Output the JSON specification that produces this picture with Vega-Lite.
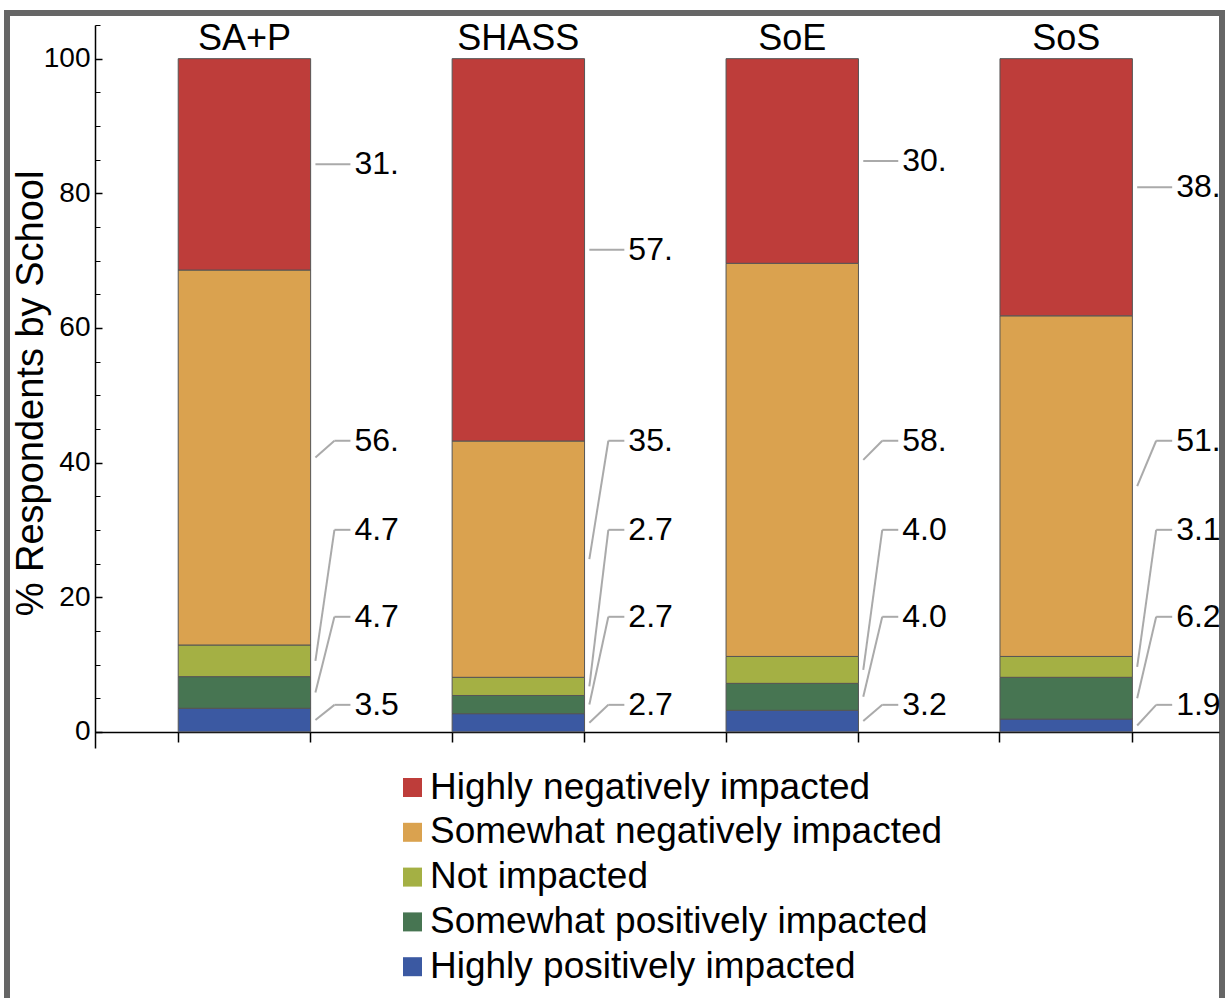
{
  "$schema": "https://vega.github.io/schema/vega-lite/v6.json",
  "width": 1215,
  "height": 988,
  "autosize": {"type": "none"},
  "padding": {"left": 7, "top": 13, "right": 3, "bottom": -3},
  "background": "white",
  "config": {
    "view": {"stroke": "#666666", "strokeWidth": 6, "fill": "white"},
    "axis": {"labelFont": "Liberation Sans", "titleFont": "Liberation Sans", "grid": false},
    "legend": {"labelFont": "Liberation Sans"},
    "text": {"font": "Liberation Sans"}
  },
  "data": {
    "values": [
      {"school": "SA+P", "category": "Highly positively impacted", "pct": 3.5, "label": "3.5"},
      {"school": "SA+P", "category": "Somewhat positively impacted", "pct": 4.7, "label": "4.7"},
      {"school": "SA+P", "category": "Not impacted", "pct": 4.7, "label": "4.7"},
      {"school": "SA+P", "category": "Somewhat negatively impacted", "pct": 55.7, "label": "56."},
      {"school": "SA+P", "category": "Highly negatively impacted", "pct": 31.4, "label": "31."},
      {"school": "SHASS", "category": "Highly positively impacted", "pct": 2.7, "label": "2.7"},
      {"school": "SHASS", "category": "Somewhat positively impacted", "pct": 2.7, "label": "2.7"},
      {"school": "SHASS", "category": "Not impacted", "pct": 2.7, "label": "2.7"},
      {"school": "SHASS", "category": "Somewhat negatively impacted", "pct": 35.1, "label": "35."},
      {"school": "SHASS", "category": "Highly negatively impacted", "pct": 56.8, "label": "57."},
      {"school": "SoE", "category": "Highly positively impacted", "pct": 3.2, "label": "3.2"},
      {"school": "SoE", "category": "Somewhat positively impacted", "pct": 4.0, "label": "4.0"},
      {"school": "SoE", "category": "Not impacted", "pct": 4.0, "label": "4.0"},
      {"school": "SoE", "category": "Somewhat negatively impacted", "pct": 58.4, "label": "58."},
      {"school": "SoE", "category": "Highly negatively impacted", "pct": 30.4, "label": "30."},
      {"school": "SoS", "category": "Highly positively impacted", "pct": 1.9, "label": "1.9"},
      {"school": "SoS", "category": "Somewhat positively impacted", "pct": 6.2, "label": "6.2"},
      {"school": "SoS", "category": "Not impacted", "pct": 3.1, "label": "3.1"},
      {"school": "SoS", "category": "Somewhat negatively impacted", "pct": 50.6, "label": "51."},
      {"school": "SoS", "category": "Highly negatively impacted", "pct": 38.2, "label": "38."}
    ]
  },
  "transform": [
    {"stack": "pct", "groupby": ["school"], "as": ["y0", "y1"]}
  ],
  "resolve": {"axis": {"x": "independent", "y": "independent"}},
  "layer": [
    {
      "mark": {"type": "bar", "stroke": "#555555", "strokeWidth": 1},
      "encoding": {
        "x": {
          "field": "school", "type": "nominal",
          "scale": {"type": "band", "range": [88, 1212], "paddingInner": 0.5166, "paddingOuter": 0.31, "align": 0.49},
          "axis": {"orient": "bottom", "offset": -269, "bandPosition": 0, "labels": false, "title": null,
                   "domainColor": "black", "domainWidth": 1.5, "tickColor": "black", "tickSize": 10, "tickWidth": 1.5}
        },
        "y": {
          "field": "y0", "type": "quantitative",
          "scale": {"domain": [-2.4, 105], "range": [735, 12], "nice": false, "zero": false},
          "axis": {"orient": "left", "offset": -88, "values": [0, 20, 40, 60, 80, 100],
                   "tickSize": -7, "labelPadding": 12, "labelFontSize": 28, "labelColor": "black",
                   "domainColor": "black", "domainWidth": 1.5, "tickColor": "black", "tickWidth": 1.5,
                   "title": "% Respondents by School", "titleFontSize": 38, "titleFontWeight": "normal",
                   "titleColor": "black", "titleX": -45, "titleY": 380}
        },
        "y2": {"field": "y1"},
        "color": {
          "field": "category", "type": "nominal",
          "scale": {
            "domain": ["Highly negatively impacted", "Somewhat negatively impacted", "Not impacted", "Somewhat positively impacted", "Highly positively impacted"],
            "range": ["#be3d3a", "#daa24f", "#a4b044", "#477552", "#3b59a2"]
          },
          "legend": {"orient": "none", "legendX": 387, "legendY": 756, "direction": "vertical", "title": null,
                     "labelFontSize": 37, "labelColor": "black", "labelLimit": 0, "labelOffset": -1,
                     "symbolType": "square", "symbolSize": 361, "symbolStrokeWidth": 0, "rowPadding": 6.8}
        }
      }
    },
    {
      "transform": [
        {"fold": ["y0", "y1"], "as": ["k", "v"]},
        {"aggregate": [{"op": "mean", "field": "v", "as": "mid"}], "groupby": ["school", "category", "label"]}
      ],
      "resolve": {"axis": {"x": "independent", "y": "independent"}},
      "layer": [
        {
          "transform": [{"filter": {"field": "category", "equal": "Highly negatively impacted"}}],
          "mark": {"type": "text", "align": "left", "baseline": "middle", "dx": 110, "fontSize": 32, "color": "black"},
          "encoding": {
            "x": {"field": "school", "type": "nominal", "scale": {"type": "band"},
                  "axis": {"orient": "top", "offset": -44, "labelFontSize": 36, "labelColor": "black", "labelPadding": 0,
                           "ticks": false, "domain": false, "title": null, "labelAngle": 0}},
            "y": {"field": "mid", "type": "quantitative", "axis": null},
            "text": {"field": "label"}
          }
        },
        {
          "transform": [{"filter": {"field": "category", "equal": "Highly negatively impacted"}}],
          "mark": {"type": "rule", "color": "#aaaaaa", "strokeWidth": 2, "xOffset": 71, "x2Offset": 106},
          "encoding": {
            "x": {"field": "school", "type": "nominal", "scale": {"type": "band"},
                  "axis": {"orient": "bottom", "offset": -269, "bandPosition": 1, "labels": false, "domain": false, "title": null,
                           "tickColor": "black", "tickSize": 10, "tickWidth": 1.5}},
            "x2": {"field": "school"},
            "y": {"field": "mid", "type": "quantitative",
                  "axis": {"orient": "left", "offset": -88, "values": [5, 10, 15, 25, 30, 35, 45, 50, 55, 65, 70, 75, 85, 90, 95, 105],
                           "tickSize": -5, "labels": false, "domain": false, "title": null, "tickColor": "black", "tickWidth": 1}}
          }
        },
        {
          "transform": [{"filter": {"field": "category", "equal": "Somewhat negatively impacted"}}],
          "mark": {"type": "rule", "color": "#aaaaaa", "strokeWidth": 2, "xOffset": 71, "x2Offset": 90},
          "encoding": {
            "x": {"field": "school", "type": "nominal", "scale": {"type": "band"}, "axis": null},
            "x2": {"field": "school"},
            "y": {"field": "mid", "type": "quantitative", "axis": null},
            "y2": {"datum": 43.24}
          }
        },
        {
          "transform": [{"filter": {"field": "category", "equal": "Somewhat negatively impacted"}}],
          "mark": {"type": "rule", "color": "#aaaaaa", "strokeWidth": 2, "xOffset": 90, "x2Offset": 106},
          "encoding": {
            "x": {"field": "school", "type": "nominal", "scale": {"type": "band"}, "axis": null},
            "x2": {"field": "school"},
            "y": {"datum": 43.24, "type": "quantitative", "axis": null}
          }
        },
        {
          "transform": [{"filter": {"field": "category", "equal": "Somewhat negatively impacted"}}],
          "mark": {"type": "text", "align": "left", "baseline": "middle", "dx": 110, "fontSize": 32, "color": "black"},
          "encoding": {
            "x": {"field": "school", "type": "nominal", "scale": {"type": "band"}, "axis": null},
            "y": {"datum": 43.24, "type": "quantitative", "axis": null},
            "text": {"field": "label"}
          }
        },
        {
          "transform": [{"filter": {"field": "category", "equal": "Not impacted"}}],
          "mark": {"type": "rule", "color": "#aaaaaa", "strokeWidth": 2, "xOffset": 71, "x2Offset": 90},
          "encoding": {
            "x": {"field": "school", "type": "nominal", "scale": {"type": "band"}, "axis": null},
            "x2": {"field": "school"},
            "y": {"field": "mid", "type": "quantitative", "axis": null},
            "y2": {"datum": 30.01}
          }
        },
        {
          "transform": [{"filter": {"field": "category", "equal": "Not impacted"}}],
          "mark": {"type": "rule", "color": "#aaaaaa", "strokeWidth": 2, "xOffset": 90, "x2Offset": 106},
          "encoding": {
            "x": {"field": "school", "type": "nominal", "scale": {"type": "band"}, "axis": null},
            "x2": {"field": "school"},
            "y": {"datum": 30.01, "type": "quantitative", "axis": null}
          }
        },
        {
          "transform": [{"filter": {"field": "category", "equal": "Not impacted"}}],
          "mark": {"type": "text", "align": "left", "baseline": "middle", "dx": 110, "fontSize": 32, "color": "black"},
          "encoding": {
            "x": {"field": "school", "type": "nominal", "scale": {"type": "band"}, "axis": null},
            "y": {"datum": 30.01, "type": "quantitative", "axis": null},
            "text": {"field": "label"}
          }
        },
        {
          "transform": [{"filter": {"field": "category", "equal": "Somewhat positively impacted"}}],
          "mark": {"type": "rule", "color": "#aaaaaa", "strokeWidth": 2, "xOffset": 71, "x2Offset": 90},
          "encoding": {
            "x": {"field": "school", "type": "nominal", "scale": {"type": "band"}, "axis": null},
            "x2": {"field": "school"},
            "y": {"field": "mid", "type": "quantitative", "axis": null},
            "y2": {"datum": 17.09}
          }
        },
        {
          "transform": [{"filter": {"field": "category", "equal": "Somewhat positively impacted"}}],
          "mark": {"type": "rule", "color": "#aaaaaa", "strokeWidth": 2, "xOffset": 90, "x2Offset": 106},
          "encoding": {
            "x": {"field": "school", "type": "nominal", "scale": {"type": "band"}, "axis": null},
            "x2": {"field": "school"},
            "y": {"datum": 17.09, "type": "quantitative", "axis": null}
          }
        },
        {
          "transform": [{"filter": {"field": "category", "equal": "Somewhat positively impacted"}}],
          "mark": {"type": "text", "align": "left", "baseline": "middle", "dx": 110, "fontSize": 32, "color": "black"},
          "encoding": {
            "x": {"field": "school", "type": "nominal", "scale": {"type": "band"}, "axis": null},
            "y": {"datum": 17.09, "type": "quantitative", "axis": null},
            "text": {"field": "label"}
          }
        },
        {
          "transform": [{"filter": {"field": "category", "equal": "Highly positively impacted"}}],
          "mark": {"type": "rule", "color": "#aaaaaa", "strokeWidth": 2, "xOffset": 71, "x2Offset": 90},
          "encoding": {
            "x": {"field": "school", "type": "nominal", "scale": {"type": "band"}, "axis": null},
            "x2": {"field": "school"},
            "y": {"field": "mid", "type": "quantitative", "axis": null},
            "y2": {"datum": 4.01}
          }
        },
        {
          "transform": [{"filter": {"field": "category", "equal": "Highly positively impacted"}}],
          "mark": {"type": "rule", "color": "#aaaaaa", "strokeWidth": 2, "xOffset": 90, "x2Offset": 106},
          "encoding": {
            "x": {"field": "school", "type": "nominal", "scale": {"type": "band"}, "axis": null},
            "x2": {"field": "school"},
            "y": {"datum": 4.01, "type": "quantitative", "axis": null}
          }
        },
        {
          "transform": [{"filter": {"field": "category", "equal": "Highly positively impacted"}}],
          "mark": {"type": "text", "align": "left", "baseline": "middle", "dx": 110, "fontSize": 32, "color": "black"},
          "encoding": {
            "x": {"field": "school", "type": "nominal", "scale": {"type": "band"}, "axis": null},
            "y": {"datum": 4.01, "type": "quantitative", "axis": null},
            "text": {"field": "label"}
          }
        }
      ]
    }
  ]
}
